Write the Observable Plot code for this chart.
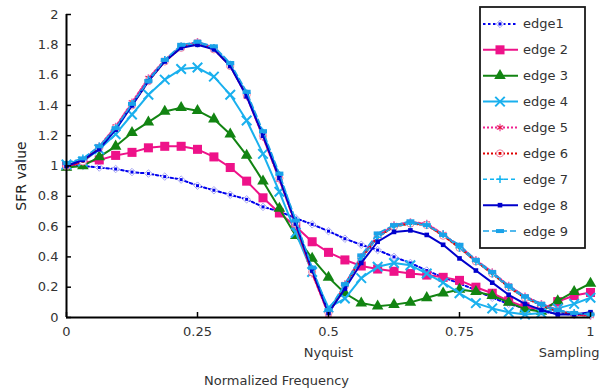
<!DOCTYPE html>
<html><head><meta charset="utf-8">
<script src="https://cdn.jsdelivr.net/npm/d3@7"></script>
<script src="https://cdn.jsdelivr.net/npm/@observablehq/plot@0.6"></script>
<style>
body{margin:0;background:#fff;}
#chart{position:relative;width:605px;height:391px;}
svg{font-family:"DejaVu Sans",sans-serif;}
</style>
</head><body><div id="chart"></div>
<script>
// ---- data ----
const freq = [0, 0.0313, 0.0625, 0.0938, 0.125, 0.1563, 0.1875, 0.2188, 0.25, 0.2813, 0.3125, 0.3438, 0.375, 0.4063, 0.4375, 0.4688, 0.5, 0.5313, 0.5625, 0.5938, 0.625, 0.6563, 0.6875, 0.7188, 0.75, 0.7813, 0.8125, 0.8438, 0.875, 0.9063, 0.9375, 0.9688, 1];
const edge1 = [1.01, 1.0, 0.99, 0.98, 0.96, 0.95, 0.93, 0.91, 0.87, 0.84, 0.81, 0.78, 0.73, 0.70, 0.655, 0.615, 0.57, 0.52, 0.48, 0.445, 0.40, 0.36, 0.31, 0.265, 0.225, 0.18, 0.13, 0.09, 0.06, 0.04, 0.025, 0.02, 0.02];
const edge2 = [1.0, 1.02, 1.04, 1.07, 1.09, 1.12, 1.13, 1.13, 1.11, 1.06, 0.99, 0.90, 0.79, 0.69, 0.60, 0.50, 0.43, 0.38, 0.34, 0.32, 0.305, 0.29, 0.28, 0.265, 0.245, 0.20, 0.16, 0.11, 0.07, 0.055, 0.105, 0.145, 0.165];
const edge3 = [0.99, 1.0, 1.06, 1.13, 1.22, 1.29, 1.36, 1.385, 1.365, 1.31, 1.21, 1.07, 0.90, 0.72, 0.54, 0.39, 0.265, 0.16, 0.095, 0.075, 0.085, 0.10, 0.13, 0.16, 0.185, 0.17, 0.145, 0.10, 0.055, 0.04, 0.11, 0.17, 0.225];
const edge4 = [1.01, 1.03, 1.11, 1.21, 1.34, 1.47, 1.57, 1.64, 1.65, 1.59, 1.47, 1.30, 1.08, 0.83, 0.56, 0.30, 0.065, 0.125, 0.26, 0.335, 0.36, 0.345, 0.29, 0.23, 0.16, 0.095, 0.06, 0.035, 0.02, 0.03, 0.06, 0.09, 0.13];
const edge5 = [1.0, 1.04, 1.13, 1.26, 1.42, 1.58, 1.70, 1.79, 1.82, 1.78, 1.66, 1.46, 1.19, 0.91, 0.61, 0.29, 0.02, 0.22, 0.40, 0.54, 0.61, 0.63, 0.62, 0.55, 0.47, 0.38, 0.30, 0.21, 0.14, 0.09, 0.05, 0.02, 0.01];
const edge6 = [1.0, 1.03, 1.12, 1.25, 1.40, 1.56, 1.69, 1.78, 1.81, 1.77, 1.66, 1.47, 1.20, 0.92, 0.62, 0.30, 0.03, 0.21, 0.39, 0.53, 0.60, 0.62, 0.61, 0.54, 0.46, 0.37, 0.29, 0.20, 0.13, 0.08, 0.04, 0.02, 0.02];
const edge7 = [1.01, 1.05, 1.13, 1.25, 1.41, 1.57, 1.70, 1.79, 1.81, 1.78, 1.67, 1.48, 1.22, 0.94, 0.64, 0.32, 0.05, 0.21, 0.39, 0.53, 0.60, 0.62, 0.61, 0.55, 0.46, 0.37, 0.29, 0.20, 0.13, 0.08, 0.04, 0.03, 0.02];
const edge8 = [1.0, 1.04, 1.11, 1.24, 1.40, 1.56, 1.69, 1.78, 1.80, 1.77, 1.66, 1.46, 1.20, 0.92, 0.62, 0.31, 0.03, 0.19, 0.36, 0.50, 0.565, 0.575, 0.545, 0.48, 0.39, 0.31, 0.23, 0.15, 0.09, 0.05, 0.02, 0.02, 0.035];
const edge9 = [1.02, 1.05, 1.13, 1.25, 1.41, 1.56, 1.70, 1.80, 1.82, 1.79, 1.68, 1.49, 1.23, 0.95, 0.64, 0.33, 0.05, 0.22, 0.41, 0.555, 0.61, 0.635, 0.61, 0.545, 0.48, 0.38, 0.30, 0.21, 0.14, 0.09, 0.05, 0.03, 0.02];
const seriesNames = ["edge1", "edge 2", "edge 3", "edge 4", "edge 5", "edge 6", "edge 7", "edge 8", "edge 9"];
const yTicks = [0, 0.2, 0.4, 0.6, 0.8, 1, 1.2, 1.4, 1.6, 1.8, 2];
const xTicks = [0, 0.25, 0.5, 0.75, 1];
const xSubLabels = [{x: 0.5, label: "Nyquist"}, {x: 1, label: "Sampling"}];
const xTitle = "Normalized Frequency";
const yTitle = "SFR value";

// ---- styles ----
const rectSym = {draw(ctx, size) { const w = Math.sqrt(size) * 1.25, h = w * 0.5; ctx.rect(-w / 2, -h / 2, w, h); }};
const styles = [
  {stroke: "#0000ee", dash: "2.5,2.5", width: 2, markers: [{symbol: "diamond2", r: 3.4, stroke: "#a9a9f2", fill: "white", sw: 1}, {symbol: "square", r: 1.7, fill: "#0000ee"}]},
  {stroke: "#ee1289", dash: null, width: 2, markers: [{symbol: "square", r: 5.1, fill: "#ee1289"}]},
  {stroke: "#128412", dash: null, width: 2, markers: [{symbol: "triangle", r: 4.3, fill: "#128412"}]},
  {stroke: "#1ab0ee", dash: null, width: 2, markers: [{symbol: "times", r: 4.4, stroke: "#1ab0ee", sw: 2}]},
  {stroke: "#f0208f", dash: "2,2", width: 2, markers: [{symbol: "asterisk", r: 3.6, stroke: "#f060b0", sw: 1.5}, {symbol: "times", r: 2, stroke: "#e00000", sw: 1}]},
  {stroke: "#e00000", dash: "2,2", width: 2, markers: [{symbol: "circle", r: 3.6, stroke: "#f080a0", fill: "white", sw: 1}, {symbol: "square", r: 1.6, fill: "#e00000"}]},
  {stroke: "#10b4f2", dash: "4,3", width: 1.5, markers: [{symbol: "plus", r: 2.6, stroke: "#10b4f2", sw: 1.5}]},
  {stroke: "#0000cc", dash: null, width: 2, markers: [{symbol: "square", r: 2.6, fill: "#0000cc"}]},
  {stroke: "#1aa2e8", dash: "6,3", width: 1.5, markers: [{symbol: rectSym, r: 3.6, fill: "#1aa2e8"}]}
];

const allValues = [edge1, edge2, edge3, edge4, edge5, edge6, edge7, edge8, edge9];
const series = allValues.map((vals, k) => ({name: seriesNames[k], style: styles[k], rows: freq.map((f, i) => ({x: f, y: vals[i]}))}));

const marks = [];
for (const s of series) {
  marks.push(Plot.line(s.rows, {x: "x", y: "y", stroke: s.style.stroke, strokeWidth: s.style.width, strokeDasharray: s.style.dash}));
  for (const m of s.style.markers) {
    marks.push(Plot.dot(s.rows, {x: "x", y: "y", symbol: m.symbol, r: m.r, fill: m.fill || "none", stroke: m.stroke || "none", strokeWidth: m.sw || 1}));
  }
}

const plot = Plot.plot({
  width: 605, height: 391,
  marginLeft: 66, marginRight: 15, marginTop: 14, marginBottom: 74,
  style: {fontFamily: "DejaVu Sans, sans-serif", fontSize: "13px", color: "#333", background: "white"},
  x: {domain: [0, 1]},
  y: {domain: [0, 2]},
  marks: [
    ...marks,
    Plot.axisX(xTicks, {tickSize: -5, tickPadding: 14, tickFormat: d => String(d), label: null, fontSize: 13, fill: "#333", stroke: "black", strokeWidth: 1.5}),
    Plot.axisY(yTicks, {tickSize: -5, tickPadding: 13, tickFormat: d => String(+d.toFixed(1)), label: null, fontSize: 13, fill: "#333", stroke: "black", strokeWidth: 1.5}),
    Plot.ruleX([0], {stroke: "black", strokeWidth: 2}),
    Plot.ruleY([0], {stroke: "black", strokeWidth: 2}),
    Plot.text(xSubLabels.slice(0, 1), {x: "x", text: "label", textAnchor: "middle", frameAnchor: "bottom", lineAnchor: "top", dy: 30, fontSize: 13, fill: "#333"}),
    Plot.text(xSubLabels.slice(1), {x: "x", text: "label", textAnchor: "end", frameAnchor: "bottom", lineAnchor: "top", dy: 30, dx: 9, fontSize: 13, fill: "#333"}),
    Plot.text([xTitle], {text: d => d, frameAnchor: "bottom", lineAnchor: "middle", dy: 63, dx: -52, fontSize: 13, fill: "#333"}),
    Plot.text([yTitle], {text: d => d, frameAnchor: "left", textAnchor: "middle", rotate: -90, lineAnchor: "middle", dx: -45, dy: 10, fontSize: 14, fill: "#222"})
  ]
});

document.getElementById("chart").appendChild(plot);

// ---- legend ----
const svg = d3.select(plot);
const lg = svg.append("g").attr("font-family", "DejaVu Sans, sans-serif").attr("font-size", 13).attr("text-anchor", "start");
const box = {x: 480, y: 7, w: 105, h: 241};
lg.append("rect").attr("x", box.x).attr("y", box.y).attr("width", box.w).attr("height", box.h)
  .attr("fill", "white").attr("stroke", "#1a1a1a").attr("stroke-width", 1.8);
const step = (box.h - 8) / series.length;
const symbolTypes = {diamond2: d3.symbolDiamond2, square: d3.symbolSquare, triangle: d3.symbolTriangle, times: d3.symbolTimes, asterisk: d3.symbolAsterisk, circle: d3.symbolCircle, plus: d3.symbolPlus};
series.forEach((s, k) => {
  const cy = box.y + 4 + step * (k + 0.5);
  lg.append("line").attr("x1", box.x + 3).attr("x2", box.x + 38).attr("y1", cy).attr("y2", cy)
    .attr("stroke", s.style.stroke).attr("stroke-width", s.style.width).attr("stroke-dasharray", s.style.dash);
  for (const m of s.style.markers) {
    const type = typeof m.symbol === "string" ? symbolTypes[m.symbol] : m.symbol;
    lg.append("path").attr("d", d3.symbol(type, Math.PI * m.r * m.r)()).attr("transform", `translate(${box.x + 20},${cy})`)
      .attr("fill", m.fill || "none").attr("stroke", m.stroke || "none").attr("stroke-width", m.sw || 1);
  }
  lg.append("text").attr("x", box.x + 43).attr("y", cy).attr("dy", "0.35em").attr("fill", "#333").text(s.name);
});
</script>
</body></html>
